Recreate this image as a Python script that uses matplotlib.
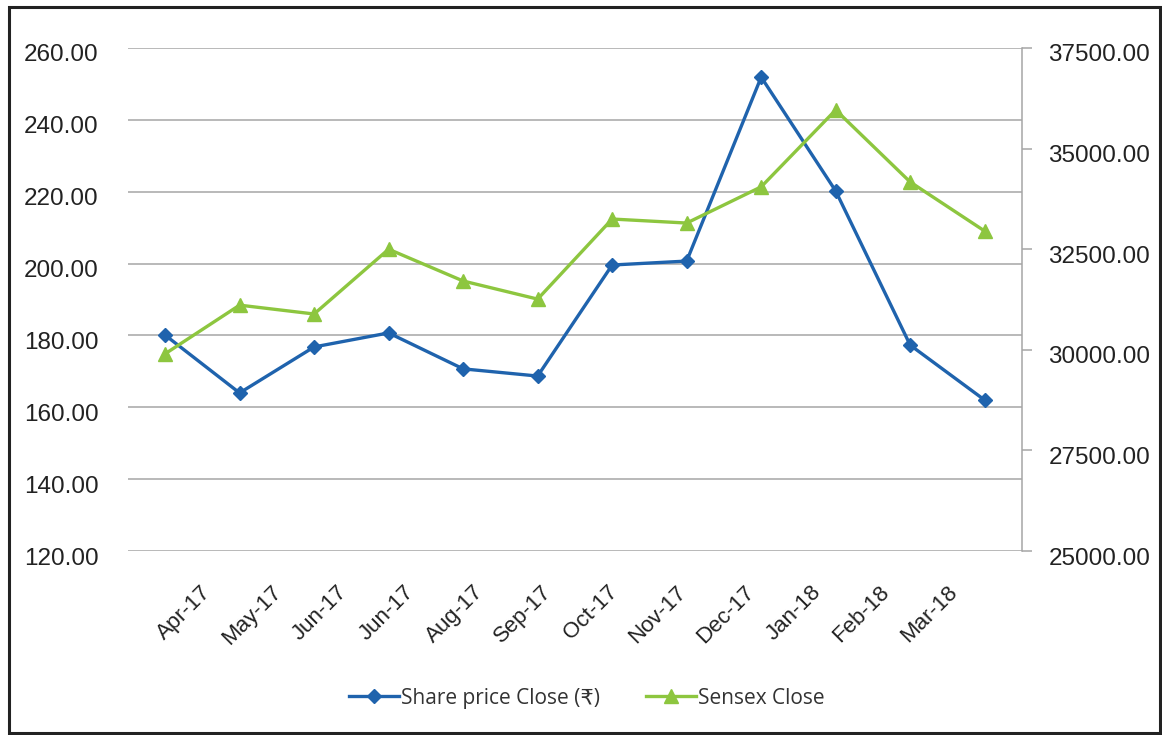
import matplotlib
matplotlib.use("Agg")
import matplotlib.pyplot as plt
import matplotlib.transforms as mtransforms
from matplotlib.patches import Rectangle

months = ['Apr-17', 'May-17', 'Jun-17', 'Jun-17', 'Aug-17', 'Sep-17',
          'Oct-17', 'Nov-17', 'Dec-17', 'Jan-18', 'Feb-18', 'Mar-18']
share_close = [180.1, 164.0, 176.8, 180.7, 170.7, 168.7,
               199.6, 200.7, 251.9, 220.2, 177.3, 162.0]
sensex_close = [29900, 31110, 30890, 32500, 31710, 31260,
                33250, 33150, 34050, 35960, 34170, 32950]

left_ticks = [120, 140, 160, 180, 200, 220, 240, 260]
right_ticks = [25000, 27500, 30000, 32500, 35000, 37500]

BLUE = '#1f63ad'
GREEN = '#8dc63f'
GRID = '#a6a6a6'

plt.rcParams['font.family'] = ['Liberation Sans', 'DejaVu Sans']

fig = plt.figure(figsize=(11.62, 7.35), dpi=100)
ax1 = fig.add_axes([0.110, 0.2503, 0.7695, 0.6844])
ax2 = ax1.twinx()

x = list(range(len(months)))
l1, = ax1.plot(x, share_close, color=BLUE, linewidth=2.4, marker='D',
               markersize=7.5, label='Share price Close (₹)', zorder=3)
l2, = ax2.plot(x, sensex_close, color=GREEN, linewidth=2.4, marker='^',
               markersize=10, label='Sensex Close', zorder=3)

ax1.set_xlim(-0.5, len(months) - 0.5)
ax1.set_ylim(120, 260)
ax2.set_ylim(25000, 37500)
ax1.set_yticks(left_ticks)
ax1.set_yticklabels(['%.2f' % v for v in left_ticks], fontsize=17.5)
ax2.set_yticks(right_ticks)
ax2.set_yticklabels(['%.2f' % v for v in right_ticks], fontsize=17.5)

ax1.grid(axis='y', color=GRID, linewidth=1.1)
ax1.set_axisbelow(True)

for sp in ['top', 'left', 'bottom']:
    ax1.spines[sp].set_visible(False)
    ax2.spines[sp].set_visible(False)
ax1.spines['right'].set_visible(False)
ax2.spines['right'].set_color(GRID)
ax2.spines['right'].set_linewidth(1.1)

ax1.tick_params(axis='y', length=0, pad=21, labelcolor='#222222')
ax2.tick_params(axis='y', length=7, width=1.1, color=GRID, pad=12,
                labelcolor='#222222')

# y labels sit slightly below their gridlines, as in the original
down = mtransforms.ScaledTranslation(0, -0.05, fig.dpi_scale_trans)
for lab in ax1.get_yticklabels() + ax2.get_yticklabels():
    lab.set_transform(lab.get_transform() + down)

ax1.set_xticks(x)
ax1.set_xticklabels(months, rotation=45, ha='center', fontsize=16,
                    color='#222222')
ax1.tick_params(axis='x', length=0, pad=22)
for i, lab in enumerate(ax1.get_xticklabels()):
    off = mtransforms.ScaledTranslation((19 - 6.8 * i) / 100, 0,
                                        fig.dpi_scale_trans)
    lab.set_transform(lab.get_transform() + off)

leg = fig.legend([l1, l2], [l1.get_label(), l2.get_label()],
                 loc='center', bbox_to_anchor=(0.505, 0.05), ncol=2,
                 frameon=False, handlelength=2.4,
                 handletextpad=0.1, columnspacing=2.2,
                 prop={'family': ['Open Sans', 'DejaVu Sans'], 'size': 15})
for t in leg.get_texts():
    t.set_color('#333333')

fig.patches.append(Rectangle((0.008, 0.003), 0.990, 0.987,
                             transform=fig.transFigure, fill=False,
                             edgecolor='#222222', linewidth=2.2))

fig.savefig('out.png', dpi=100)
